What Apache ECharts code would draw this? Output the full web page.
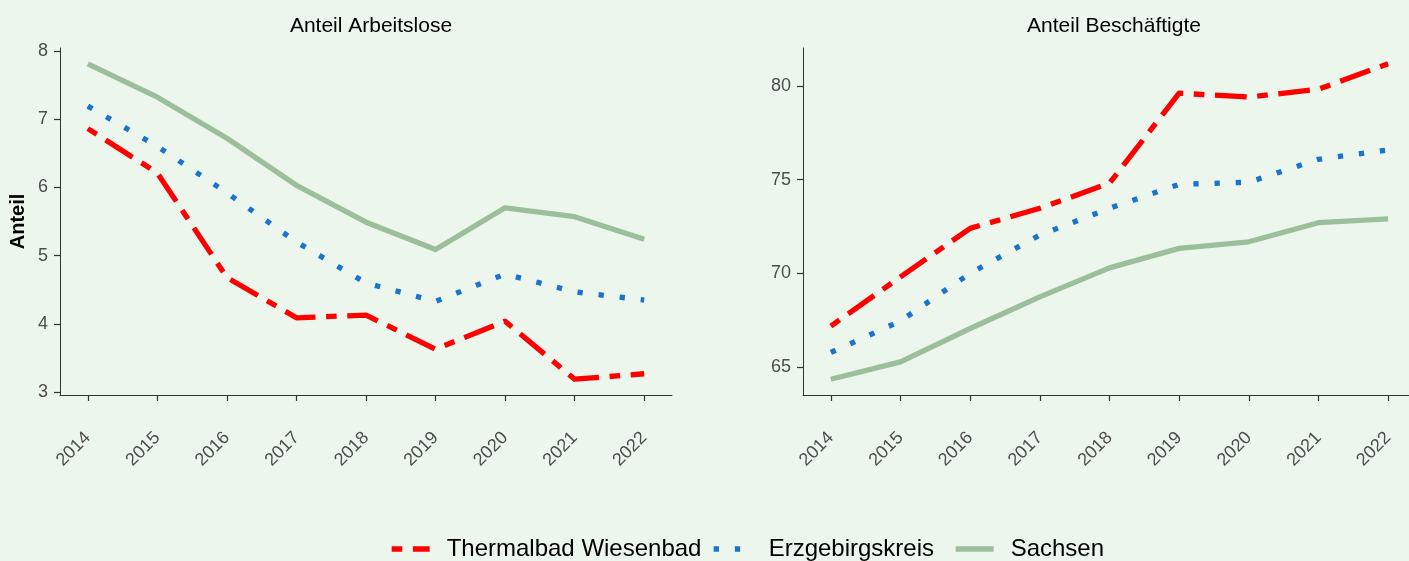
<!DOCTYPE html>
<html>
<head>
<meta charset="utf-8">
<script src="https://cdn.jsdelivr.net/npm/echarts@6/dist/echarts.min.js"></script>
<style>
  html, body { margin: 0; padding: 0; background: #edf6ec; }
  #chart { width: 1409px; height: 561px; }
</style>
</head>
<body>
<div id="chart"></div>
<script>
// Werte
const years = [2014, 2015, 2016, 2017, 2018, 2019, 2020, 2021, 2022];

const arbeitsloseThermalbad = [6.86, 6.21, 4.68, 4.09, 4.13, 3.63, 4.04, 3.19, 3.27];
const arbeitsloseErzgebirge = [7.19, 6.60, 5.92, 5.20, 4.60, 4.33, 4.73, 4.47, 4.35];
const arbeitsloseSachsen = [7.81, 7.32, 6.72, 6.03, 5.49, 5.09, 5.70, 5.57, 5.24];

const beschaeftigteThermalbad = [67.18, 69.81, 72.40, 73.47, 74.81, 79.62, 79.41, 79.83, 81.19];
const beschaeftigteErzgebirge = [65.77, 67.45, 70.00, 72.04, 73.47, 74.75, 74.86, 76.09, 76.59];
const beschaeftigteSachsen = [64.34, 65.27, 67.05, 68.74, 70.29, 71.33, 71.68, 72.70, 72.90];

const ticksArbeitslose = [3, 4, 5, 6, 7, 8];
const ticksBeschaeftigte = [65, 70, 75, 80];

const seriesNames = ['Thermalbad Wiesenbad', 'Erzgebirgskreis', 'Sachsen'];

const FONT = '"Liberation Sans", Arial, sans-serif';
const colors = ['#ff0000', '#1874cd', '#9bbf9b'];
const lw = 5.3;
const dashes = [[lw * 2, lw * 2, lw * 6, lw * 2], [lw, lw * 3], 'solid'];

// ggplot-artige Achsenerweiterung (5 %)
function expand(arrs) {
  const all = [].concat(...arrs);
  const lo = Math.min(...all), hi = Math.max(...all);
  const pad = (hi - lo) * 0.05;
  return [lo - pad, hi + pad];
}
const rangeLeft = expand([arbeitsloseThermalbad, arbeitsloseErzgebirge, arbeitsloseSachsen]);
const rangeRight = expand([beschaeftigteThermalbad, beschaeftigteErzgebirge, beschaeftigteSachsen]);

const toPairs = (vals) => vals.map((v, i) => [years[i], v]);

// rechtes Panel ist am Bildrand abgeschnitten
function xAxis(gridIndex, max) {
  return {
    type: 'value',
    gridIndex,
    min: 2013.6,
    max,
    splitLine: { show: false },
    axisLine: { lineStyle: { color: '#333', width: 1 } },
    axisTick: { customValues: years, length: 6, lineStyle: { color: '#333', width: 1.2 } },
    axisLabel: {
      customValues: years,
      formatter: (v) => String(v),
      rotate: 45,
      margin: 40,
      color: '#4d4d4d',
      fontSize: 18,
      fontFamily: FONT,
    },
  };
}

function yAxis(gridIndex, range, ticks, name) {
  return {
    type: 'value',
    gridIndex,
    min: range[0],
    max: range[1],
    name,
    nameLocation: 'middle',
    nameGap: 32,
    nameRotate: 90,
    nameTextStyle: { fontWeight: 'bold', fontSize: 20, color: '#000', fontFamily: FONT },
    splitLine: { show: false },
    axisLine: { show: true, lineStyle: { color: '#333', width: 1 } },
    axisTick: { show: true, customValues: ticks, length: 6, lineStyle: { color: '#333', width: 1.2 } },
    axisLabel: {
      customValues: ticks,
      margin: 12,
      color: '#4d4d4d',
      fontSize: 18,
      fontFamily: FONT,
    },
  };
}

function lineSeries(idx, gridIdx, vals) {
  return {
    name: seriesNames[idx],
    type: 'line',
    xAxisIndex: gridIdx,
    yAxisIndex: gridIdx,
    data: toPairs(vals),
    symbol: 'none',
    lineStyle: { color: colors[idx], width: lw, type: dashes[idx], cap: 'butt', join: 'round' },
    itemStyle: { color: colors[idx] },
    z: 3 - idx,
  };
}

// Legendenschlüssel: nur die Linie, Symbol ausgeblendet
function legendAt(idx, left) {
  return {
    data: [{ name: seriesNames[idx], itemStyle: { opacity: 0 } }],
    left,
    top: 530,
    itemWidth: 38,
    itemHeight: 12,
    lineStyle: { width: lw, type: dashes[idx], cap: 'butt' },
    textStyle: { fontSize: 24, color: '#000', fontFamily: FONT, padding: [0, 0, 0, 12], lineHeight: 28 },
  };
}

const myChart = echarts.init(document.getElementById('chart'));
myChart.setOption({
  animation: false,
  backgroundColor: '#edf6ec',
  title: [
    { text: 'Anteil Arbeitslose', left: 366, top: 11, textAlign: 'center',
      textStyle: { fontSize: 21, fontWeight: 'normal', color: '#000', fontFamily: FONT } },
    { text: 'Anteil Beschäftigte', left: 1109, top: 11, textAlign: 'center',
      textStyle: { fontSize: 21, fontWeight: 'normal', color: '#000', fontFamily: FONT } },
  ],
  grid: [
    { left: 60, top: 48, width: 612, height: 347 },
    { left: 803, top: 48, width: 606, height: 347 },
  ],
  xAxis: [xAxis(0, 2022.4), xAxis(1, 2022.3)],
  yAxis: [
    yAxis(0, rangeLeft, ticksArbeitslose, 'Anteil'),
    yAxis(1, rangeRight, ticksBeschaeftigte, ''),
  ],
  legend: [legendAt(0, 384), legendAt(1, 706), legendAt(2, 948)],
  series: [
    lineSeries(0, 0, arbeitsloseThermalbad),
    lineSeries(1, 0, arbeitsloseErzgebirge),
    lineSeries(2, 0, arbeitsloseSachsen),
    lineSeries(0, 1, beschaeftigteThermalbad),
    lineSeries(1, 1, beschaeftigteErzgebirge),
    lineSeries(2, 1, beschaeftigteSachsen),
  ],
});
</script>
</body>
</html>
